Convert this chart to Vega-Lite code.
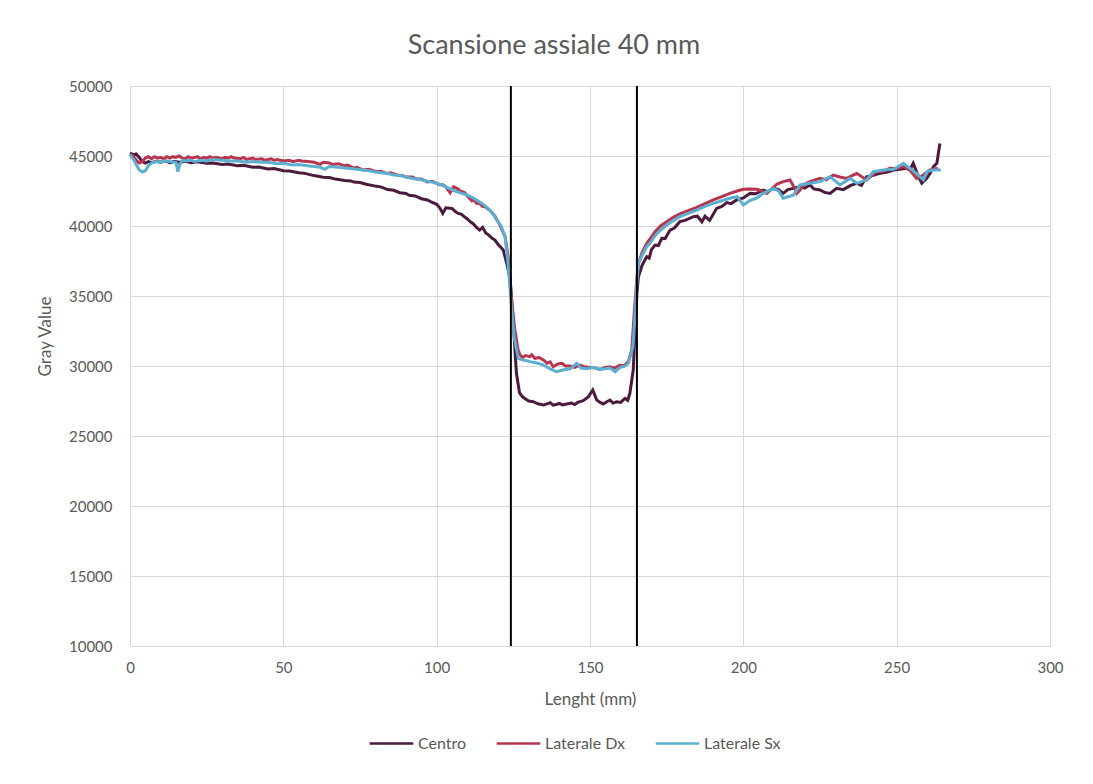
{
"$schema": "https://vega.github.io/schema/vega-lite/v6.json",
"width": 920,
"height": 560,
"autosize": {"type": "none"},
"padding": {"left": 130, "top": 86, "right": 43, "bottom": 138},
"background": "white",
"config": {
  "font": "Lato",
  "view": {"stroke": null},
  "axis": {"labelFont": "Lato", "titleFont": "Lato", "labelColor": "#595959", "titleColor": "#595959", "labelFontSize": 15, "titleFontSize": 17, "titleFontWeight": "normal", "gridColor": "#d9d9d9", "gridWidth": 1, "domainColor": "#d9d9d9", "ticks": false, "labelFlush": false},
  "legend": {"labelFont": "Lato", "labelColor": "#595959", "labelFontSize": 16}
},
"title": {"text": "Scansione assiale 40 mm", "font": "Lato", "fontSize": 27, "fontWeight": "normal", "color": "#595959", "anchor": "middle", "dx": -36, "dy": 36, "offset": 34, "baseline": "alphabetic"},
"datasets": {
"series": [
{"s":"Centro","x":0,"y":45200},{"s":"Centro","x":1,"y":45100},{"s":"Centro","x":2,"y":45150},{"s":"Centro","x":3,"y":44900},{"s":"Centro","x":4,"y":44600},{"s":"Centro","x":5,"y":44500},{"s":"Centro","x":6,"y":44600},{"s":"Centro","x":7,"y":44520},{"s":"Centro","x":8.5,"y":44620},{"s":"Centro","x":10,"y":44550},{"s":"Centro","x":11.5,"y":44650},{"s":"Centro","x":13,"y":44530},{"s":"Centro","x":14.5,"y":44620},{"s":"Centro","x":16,"y":44560},{"s":"Centro","x":18,"y":44620},{"s":"Centro","x":20,"y":44520},{"s":"Centro","x":22,"y":44580},{"s":"Centro","x":25,"y":44480},{"s":"Centro","x":27,"y":44500},{"s":"Centro","x":30,"y":44400},{"s":"Centro","x":32,"y":44420},{"s":"Centro","x":35,"y":44300},{"s":"Centro","x":37,"y":44330},{"s":"Centro","x":40,"y":44200},{"s":"Centro","x":42,"y":44220},{"s":"Centro","x":45,"y":44080},{"s":"Centro","x":47,"y":44100},{"s":"Centro","x":50,"y":43950},{"s":"Centro","x":52,"y":43930},{"s":"Centro","x":55,"y":43800},{"s":"Centro","x":57,"y":43760},{"s":"Centro","x":60,"y":43600},{"s":"Centro","x":63,"y":43480},{"s":"Centro","x":65,"y":43460},{"s":"Centro","x":67,"y":43350},{"s":"Centro","x":70,"y":43250},{"s":"Centro","x":72,"y":43220},{"s":"Centro","x":73,"y":43140},{"s":"Centro","x":75,"y":43100},{"s":"Centro","x":77,"y":42980},{"s":"Centro","x":80,"y":42850},{"s":"Centro","x":82,"y":42780},{"s":"Centro","x":84,"y":42600},{"s":"Centro","x":86,"y":42550},{"s":"Centro","x":88,"y":42380},{"s":"Centro","x":90,"y":42320},{"s":"Centro","x":91,"y":42200},{"s":"Centro","x":93,"y":42150},{"s":"Centro","x":95,"y":41950},{"s":"Centro","x":97,"y":41860},{"s":"Centro","x":98,"y":41740},{"s":"Centro","x":100,"y":41550},{"s":"Centro","x":101,"y":41300},{"s":"Centro","x":102,"y":40900},{"s":"Centro","x":103,"y":41300},{"s":"Centro","x":105,"y":41250},{"s":"Centro","x":106,"y":41050},{"s":"Centro","x":107,"y":40900},{"s":"Centro","x":108,"y":40850},{"s":"Centro","x":109,"y":40670},{"s":"Centro","x":110,"y":40500},{"s":"Centro","x":111,"y":40300},{"s":"Centro","x":112,"y":40150},{"s":"Centro","x":113,"y":39900},{"s":"Centro","x":114,"y":39710},{"s":"Centro","x":115,"y":39900},{"s":"Centro","x":116,"y":39500},{"s":"Centro","x":117,"y":39350},{"s":"Centro","x":118,"y":39140},{"s":"Centro","x":119,"y":39000},{"s":"Centro","x":120,"y":38700},{"s":"Centro","x":121.7,"y":38290},{"s":"Centro","x":123,"y":37200},{"s":"Centro","x":124,"y":36140},{"s":"Centro","x":125,"y":33000},{"s":"Centro","x":126,"y":29500},{"s":"Centro","x":127,"y":28100},{"s":"Centro","x":128,"y":27800},{"s":"Centro","x":129,"y":27650},{"s":"Centro","x":130,"y":27500},{"s":"Centro","x":131.5,"y":27450},{"s":"Centro","x":133,"y":27300},{"s":"Centro","x":134.8,"y":27210},{"s":"Centro","x":136,"y":27300},{"s":"Centro","x":137,"y":27380},{"s":"Centro","x":138,"y":27200},{"s":"Centro","x":139,"y":27250},{"s":"Centro","x":140,"y":27330},{"s":"Centro","x":141,"y":27220},{"s":"Centro","x":142.4,"y":27290},{"s":"Centro","x":144,"y":27350},{"s":"Centro","x":145,"y":27250},{"s":"Centro","x":146,"y":27400},{"s":"Centro","x":147.8,"y":27520},{"s":"Centro","x":149.5,"y":27810},{"s":"Centro","x":150.9,"y":28290},{"s":"Centro","x":152.2,"y":27570},{"s":"Centro","x":153.3,"y":27400},{"s":"Centro","x":154.3,"y":27290},{"s":"Centro","x":155.5,"y":27450},{"s":"Centro","x":156.5,"y":27570},{"s":"Centro","x":157.5,"y":27350},{"s":"Centro","x":158.7,"y":27450},{"s":"Centro","x":160,"y":27400},{"s":"Centro","x":161.4,"y":27690},{"s":"Centro","x":162.3,"y":27550},{"s":"Centro","x":163,"y":28050},{"s":"Centro","x":164.1,"y":29710},{"s":"Centro","x":164.7,"y":32570},{"s":"Centro","x":165.3,"y":35200},{"s":"Centro","x":165.8,"y":36380},{"s":"Centro","x":167,"y":37200},{"s":"Centro","x":168.5,"y":37810},{"s":"Centro","x":169.3,"y":37700},{"s":"Centro","x":170,"y":38300},{"s":"Centro","x":171.2,"y":38640},{"s":"Centro","x":172.3,"y":38600},{"s":"Centro","x":173.4,"y":39120},{"s":"Centro","x":174.5,"y":39100},{"s":"Centro","x":176.1,"y":39710},{"s":"Centro","x":177.5,"y":39850},{"s":"Centro","x":179.3,"y":40310},{"s":"Centro","x":181,"y":40400},{"s":"Centro","x":183.7,"y":40670},{"s":"Centro","x":185,"y":40700},{"s":"Centro","x":186.5,"y":40300},{"s":"Centro","x":187.5,"y":40700},{"s":"Centro","x":189,"y":40400},{"s":"Centro","x":191.3,"y":41260},{"s":"Centro","x":193,"y":41400},{"s":"Centro","x":194.6,"y":41670},{"s":"Centro","x":196,"y":41600},{"s":"Centro","x":197.8,"y":41860},{"s":"Centro","x":200,"y":42000},{"s":"Centro","x":202.2,"y":42330},{"s":"Centro","x":204,"y":42300},{"s":"Centro","x":206.5,"y":42570},{"s":"Centro","x":208,"y":42450},{"s":"Centro","x":209.8,"y":42690},{"s":"Centro","x":211.5,"y":42600},{"s":"Centro","x":213,"y":42330},{"s":"Centro","x":214.5,"y":42600},{"s":"Centro","x":216.3,"y":42690},{"s":"Centro","x":218.5,"y":42810},{"s":"Centro","x":220,"y":42700},{"s":"Centro","x":221.7,"y":42930},{"s":"Centro","x":223,"y":42650},{"s":"Centro","x":225,"y":42570},{"s":"Centro","x":226.5,"y":42400},{"s":"Centro","x":228.3,"y":42330},{"s":"Centro","x":230.4,"y":42690},{"s":"Centro","x":232.6,"y":42600},{"s":"Centro","x":235,"y":42900},{"s":"Centro","x":237,"y":43050},{"s":"Centro","x":238.5,"y":42900},{"s":"Centro","x":240.2,"y":43520},{"s":"Centro","x":242,"y":43600},{"s":"Centro","x":244.6,"y":43760},{"s":"Centro","x":247,"y":43850},{"s":"Centro","x":249,"y":44000},{"s":"Centro","x":251,"y":44050},{"s":"Centro","x":253.2,"y":44120},{"s":"Centro","x":254.3,"y":44000},{"s":"Centro","x":255.4,"y":44480},{"s":"Centro","x":257.1,"y":43520},{"s":"Centro","x":258.2,"y":43050},{"s":"Centro","x":259.8,"y":43400},{"s":"Centro","x":261,"y":43800},{"s":"Centro","x":262,"y":44240},{"s":"Centro","x":263.1,"y":44480},{"s":"Centro","x":264.1,"y":45900},
{"s":"Laterale Dx","x":0,"y":45100},{"s":"Laterale Dx","x":1,"y":45000},{"s":"Laterale Dx","x":2,"y":44700},{"s":"Laterale Dx","x":3,"y":44500},{"s":"Laterale Dx","x":4,"y":44600},{"s":"Laterale Dx","x":5,"y":44850},{"s":"Laterale Dx","x":6,"y":44950},{"s":"Laterale Dx","x":7,"y":44800},{"s":"Laterale Dx","x":8,"y":44950},{"s":"Laterale Dx","x":9,"y":44850},{"s":"Laterale Dx","x":10,"y":44900},{"s":"Laterale Dx","x":11,"y":44800},{"s":"Laterale Dx","x":12,"y":44950},{"s":"Laterale Dx","x":13,"y":44850},{"s":"Laterale Dx","x":14,"y":44950},{"s":"Laterale Dx","x":15,"y":44900},{"s":"Laterale Dx","x":16,"y":45000},{"s":"Laterale Dx","x":17,"y":44850},{"s":"Laterale Dx","x":18,"y":44800},{"s":"Laterale Dx","x":19,"y":44950},{"s":"Laterale Dx","x":20,"y":44850},{"s":"Laterale Dx","x":22,"y":44950},{"s":"Laterale Dx","x":23,"y":44800},{"s":"Laterale Dx","x":24,"y":44900},{"s":"Laterale Dx","x":25,"y":44850},{"s":"Laterale Dx","x":26,"y":44950},{"s":"Laterale Dx","x":27,"y":44850},{"s":"Laterale Dx","x":28,"y":44900},{"s":"Laterale Dx","x":30,"y":44800},{"s":"Laterale Dx","x":31,"y":44900},{"s":"Laterale Dx","x":32,"y":44850},{"s":"Laterale Dx","x":33,"y":44950},{"s":"Laterale Dx","x":34,"y":44850},{"s":"Laterale Dx","x":36,"y":44800},{"s":"Laterale Dx","x":37,"y":44900},{"s":"Laterale Dx","x":38,"y":44750},{"s":"Laterale Dx","x":40,"y":44850},{"s":"Laterale Dx","x":41,"y":44750},{"s":"Laterale Dx","x":43,"y":44800},{"s":"Laterale Dx","x":44,"y":44700},{"s":"Laterale Dx","x":46,"y":44800},{"s":"Laterale Dx","x":47,"y":44700},{"s":"Laterale Dx","x":48,"y":44750},{"s":"Laterale Dx","x":50,"y":44650},{"s":"Laterale Dx","x":52,"y":44700},{"s":"Laterale Dx","x":53,"y":44600},{"s":"Laterale Dx","x":55,"y":44700},{"s":"Laterale Dx","x":56,"y":44650},{"s":"Laterale Dx","x":58,"y":44600},{"s":"Laterale Dx","x":60,"y":44550},{"s":"Laterale Dx","x":62,"y":44400},{"s":"Laterale Dx","x":63,"y":44550},{"s":"Laterale Dx","x":65,"y":44500},{"s":"Laterale Dx","x":66,"y":44400},{"s":"Laterale Dx","x":68,"y":44450},{"s":"Laterale Dx","x":70,"y":44300},{"s":"Laterale Dx","x":71,"y":44350},{"s":"Laterale Dx","x":72.8,"y":44150},{"s":"Laterale Dx","x":74,"y":44200},{"s":"Laterale Dx","x":76,"y":44000},{"s":"Laterale Dx","x":78,"y":44050},{"s":"Laterale Dx","x":80,"y":43900},{"s":"Laterale Dx","x":82,"y":43900},{"s":"Laterale Dx","x":83.7,"y":43750},{"s":"Laterale Dx","x":85,"y":43800},{"s":"Laterale Dx","x":87,"y":43650},{"s":"Laterale Dx","x":89,"y":43600},{"s":"Laterale Dx","x":90,"y":43500},{"s":"Laterale Dx","x":92,"y":43500},{"s":"Laterale Dx","x":93.5,"y":43350},{"s":"Laterale Dx","x":95,"y":43350},{"s":"Laterale Dx","x":97,"y":43150},{"s":"Laterale Dx","x":98.5,"y":43200},{"s":"Laterale Dx","x":100,"y":43050},{"s":"Laterale Dx","x":101,"y":42950},{"s":"Laterale Dx","x":102,"y":42950},{"s":"Laterale Dx","x":103,"y":42800},{"s":"Laterale Dx","x":104.4,"y":42380},{"s":"Laterale Dx","x":105.5,"y":42800},{"s":"Laterale Dx","x":107,"y":42650},{"s":"Laterale Dx","x":107.6,"y":42500},{"s":"Laterale Dx","x":109,"y":42400},{"s":"Laterale Dx","x":110,"y":42150},{"s":"Laterale Dx","x":111.5,"y":41800},{"s":"Laterale Dx","x":112,"y":41900},{"s":"Laterale Dx","x":113,"y":41620},{"s":"Laterale Dx","x":114,"y":41600},{"s":"Laterale Dx","x":115,"y":41400},{"s":"Laterale Dx","x":116,"y":41350},{"s":"Laterale Dx","x":117.4,"y":41100},{"s":"Laterale Dx","x":119,"y":40700},{"s":"Laterale Dx","x":120.6,"y":40070},{"s":"Laterale Dx","x":122.3,"y":39240},{"s":"Laterale Dx","x":123.3,"y":37810},{"s":"Laterale Dx","x":124.3,"y":35000},{"s":"Laterale Dx","x":125.5,"y":32570},{"s":"Laterale Dx","x":126.5,"y":31200},{"s":"Laterale Dx","x":127.2,"y":30790},{"s":"Laterale Dx","x":128,"y":30600},{"s":"Laterale Dx","x":129,"y":30750},{"s":"Laterale Dx","x":130.4,"y":30670},{"s":"Laterale Dx","x":131,"y":30800},{"s":"Laterale Dx","x":132,"y":30550},{"s":"Laterale Dx","x":133.5,"y":30600},{"s":"Laterale Dx","x":134.8,"y":30430},{"s":"Laterale Dx","x":136,"y":30200},{"s":"Laterale Dx","x":137,"y":30300},{"s":"Laterale Dx","x":138,"y":29950},{"s":"Laterale Dx","x":139.5,"y":30150},{"s":"Laterale Dx","x":140.8,"y":30190},{"s":"Laterale Dx","x":142,"y":30000},{"s":"Laterale Dx","x":143.5,"y":30000},{"s":"Laterale Dx","x":145,"y":29900},{"s":"Laterale Dx","x":146.7,"y":30070},{"s":"Laterale Dx","x":148,"y":29950},{"s":"Laterale Dx","x":150,"y":29900},{"s":"Laterale Dx","x":152,"y":29850},{"s":"Laterale Dx","x":153.3,"y":29760},{"s":"Laterale Dx","x":155,"y":29900},{"s":"Laterale Dx","x":156.5,"y":29950},{"s":"Laterale Dx","x":158,"y":29850},{"s":"Laterale Dx","x":159.8,"y":30070},{"s":"Laterale Dx","x":161,"y":30000},{"s":"Laterale Dx","x":162.5,"y":30310},{"s":"Laterale Dx","x":163.6,"y":31140},{"s":"Laterale Dx","x":164.5,"y":34000},{"s":"Laterale Dx","x":165.3,"y":36300},{"s":"Laterale Dx","x":165.8,"y":37330},{"s":"Laterale Dx","x":167,"y":38100},{"s":"Laterale Dx","x":168.5,"y":38760},{"s":"Laterale Dx","x":170,"y":39200},{"s":"Laterale Dx","x":171.2,"y":39590},{"s":"Laterale Dx","x":173,"y":40000},{"s":"Laterale Dx","x":175,"y":40310},{"s":"Laterale Dx","x":177,"y":40600},{"s":"Laterale Dx","x":179.3,"y":40860},{"s":"Laterale Dx","x":182,"y":41100},{"s":"Laterale Dx","x":184.8,"y":41330},{"s":"Laterale Dx","x":187.5,"y":41600},{"s":"Laterale Dx","x":190.2,"y":41860},{"s":"Laterale Dx","x":193,"y":42100},{"s":"Laterale Dx","x":195.6,"y":42330},{"s":"Laterale Dx","x":198,"y":42500},{"s":"Laterale Dx","x":200,"y":42620},{"s":"Laterale Dx","x":202,"y":42650},{"s":"Laterale Dx","x":204.4,"y":42620},{"s":"Laterale Dx","x":206,"y":42500},{"s":"Laterale Dx","x":207.6,"y":42330},{"s":"Laterale Dx","x":209,"y":42600},{"s":"Laterale Dx","x":211,"y":43000},{"s":"Laterale Dx","x":213,"y":43170},{"s":"Laterale Dx","x":215.2,"y":43290},{"s":"Laterale Dx","x":216.5,"y":42800},{"s":"Laterale Dx","x":217.4,"y":42330},{"s":"Laterale Dx","x":218.5,"y":42570},{"s":"Laterale Dx","x":219.6,"y":42930},{"s":"Laterale Dx","x":221.7,"y":43170},{"s":"Laterale Dx","x":225,"y":43400},{"s":"Laterale Dx","x":227,"y":43300},{"s":"Laterale Dx","x":229.3,"y":43640},{"s":"Laterale Dx","x":231.5,"y":43500},{"s":"Laterale Dx","x":233.7,"y":43400},{"s":"Laterale Dx","x":235.5,"y":43600},{"s":"Laterale Dx","x":237,"y":43760},{"s":"Laterale Dx","x":240.2,"y":43290},{"s":"Laterale Dx","x":243.5,"y":43880},{"s":"Laterale Dx","x":245.5,"y":43900},{"s":"Laterale Dx","x":247.8,"y":44120},{"s":"Laterale Dx","x":250,"y":44100},{"s":"Laterale Dx","x":252.2,"y":44240},{"s":"Laterale Dx","x":254.3,"y":44000},{"s":"Laterale Dx","x":256.5,"y":43400},{"s":"Laterale Dx","x":258.7,"y":43640},{"s":"Laterale Dx","x":260.9,"y":44000},{"s":"Laterale Dx","x":263.5,"y":44100},
{"s":"Laterale Sx","x":0,"y":45100},{"s":"Laterale Sx","x":1,"y":44800},{"s":"Laterale Sx","x":2,"y":44400},{"s":"Laterale Sx","x":3,"y":44000},{"s":"Laterale Sx","x":4,"y":43860},{"s":"Laterale Sx","x":5,"y":43950},{"s":"Laterale Sx","x":6,"y":44300},{"s":"Laterale Sx","x":7,"y":44500},{"s":"Laterale Sx","x":8.5,"y":44600},{"s":"Laterale Sx","x":10,"y":44550},{"s":"Laterale Sx","x":11.5,"y":44650},{"s":"Laterale Sx","x":13,"y":44600},{"s":"Laterale Sx","x":15,"y":44550},{"s":"Laterale Sx","x":15.6,"y":43880},{"s":"Laterale Sx","x":16.3,"y":44400},{"s":"Laterale Sx","x":17,"y":44700},{"s":"Laterale Sx","x":18,"y":44650},{"s":"Laterale Sx","x":20,"y":44700},{"s":"Laterale Sx","x":21,"y":44600},{"s":"Laterale Sx","x":23,"y":44700},{"s":"Laterale Sx","x":25,"y":44650},{"s":"Laterale Sx","x":27,"y":44750},{"s":"Laterale Sx","x":30,"y":44700},{"s":"Laterale Sx","x":32,"y":44650},{"s":"Laterale Sx","x":35,"y":44650},{"s":"Laterale Sx","x":38,"y":44550},{"s":"Laterale Sx","x":40,"y":44600},{"s":"Laterale Sx","x":43,"y":44550},{"s":"Laterale Sx","x":45,"y":44550},{"s":"Laterale Sx","x":48,"y":44450},{"s":"Laterale Sx","x":50,"y":44480},{"s":"Laterale Sx","x":53,"y":44350},{"s":"Laterale Sx","x":55,"y":44400},{"s":"Laterale Sx","x":58,"y":44300},{"s":"Laterale Sx","x":60,"y":44250},{"s":"Laterale Sx","x":62,"y":44200},{"s":"Laterale Sx","x":63.5,"y":44050},{"s":"Laterale Sx","x":65,"y":44250},{"s":"Laterale Sx","x":68,"y":44200},{"s":"Laterale Sx","x":70,"y":44150},{"s":"Laterale Sx","x":72,"y":44100},{"s":"Laterale Sx","x":74,"y":44050},{"s":"Laterale Sx","x":76,"y":44000},{"s":"Laterale Sx","x":78,"y":43950},{"s":"Laterale Sx","x":80,"y":43850},{"s":"Laterale Sx","x":82,"y":43800},{"s":"Laterale Sx","x":84,"y":43750},{"s":"Laterale Sx","x":86,"y":43650},{"s":"Laterale Sx","x":88,"y":43600},{"s":"Laterale Sx","x":90,"y":43500},{"s":"Laterale Sx","x":92,"y":43400},{"s":"Laterale Sx","x":94,"y":43350},{"s":"Laterale Sx","x":96,"y":43250},{"s":"Laterale Sx","x":98,"y":43150},{"s":"Laterale Sx","x":100,"y":43050},{"s":"Laterale Sx","x":101.5,"y":42950},{"s":"Laterale Sx","x":103,"y":42800},{"s":"Laterale Sx","x":104.5,"y":42650},{"s":"Laterale Sx","x":106,"y":42500},{"s":"Laterale Sx","x":108,"y":42350},{"s":"Laterale Sx","x":110,"y":42200},{"s":"Laterale Sx","x":111.5,"y":42050},{"s":"Laterale Sx","x":113,"y":41860},{"s":"Laterale Sx","x":114.5,"y":41650},{"s":"Laterale Sx","x":116,"y":41400},{"s":"Laterale Sx","x":118,"y":41000},{"s":"Laterale Sx","x":119.6,"y":40430},{"s":"Laterale Sx","x":121,"y":40000},{"s":"Laterale Sx","x":122.3,"y":39240},{"s":"Laterale Sx","x":123.3,"y":37300},{"s":"Laterale Sx","x":124.3,"y":34500},{"s":"Laterale Sx","x":125.3,"y":32000},{"s":"Laterale Sx","x":126.6,"y":30550},{"s":"Laterale Sx","x":128,"y":30450},{"s":"Laterale Sx","x":130.4,"y":30310},{"s":"Laterale Sx","x":133,"y":30200},{"s":"Laterale Sx","x":134.8,"y":30070},{"s":"Laterale Sx","x":137,"y":29800},{"s":"Laterale Sx","x":139.1,"y":29590},{"s":"Laterale Sx","x":141,"y":29710},{"s":"Laterale Sx","x":143.5,"y":29800},{"s":"Laterale Sx","x":145.7,"y":30190},{"s":"Laterale Sx","x":147,"y":29850},{"s":"Laterale Sx","x":149,"y":29800},{"s":"Laterale Sx","x":151,"y":29900},{"s":"Laterale Sx","x":153,"y":29760},{"s":"Laterale Sx","x":155,"y":29800},{"s":"Laterale Sx","x":156.5,"y":29850},{"s":"Laterale Sx","x":158.2,"y":29590},{"s":"Laterale Sx","x":159.8,"y":29900},{"s":"Laterale Sx","x":161,"y":29950},{"s":"Laterale Sx","x":162.5,"y":30190},{"s":"Laterale Sx","x":164,"y":31380},{"s":"Laterale Sx","x":164.8,"y":34000},{"s":"Laterale Sx","x":165.3,"y":36000},{"s":"Laterale Sx","x":165.8,"y":37330},{"s":"Laterale Sx","x":167,"y":37900},{"s":"Laterale Sx","x":168.5,"y":38520},{"s":"Laterale Sx","x":170,"y":38900},{"s":"Laterale Sx","x":171.2,"y":39300},{"s":"Laterale Sx","x":173,"y":39700},{"s":"Laterale Sx","x":175,"y":40070},{"s":"Laterale Sx","x":177,"y":40350},{"s":"Laterale Sx","x":179.3,"y":40670},{"s":"Laterale Sx","x":182,"y":40900},{"s":"Laterale Sx","x":184.8,"y":41140},{"s":"Laterale Sx","x":187.5,"y":41400},{"s":"Laterale Sx","x":190.2,"y":41620},{"s":"Laterale Sx","x":193,"y":41800},{"s":"Laterale Sx","x":195.6,"y":41980},{"s":"Laterale Sx","x":198,"y":42100},{"s":"Laterale Sx","x":200,"y":41500},{"s":"Laterale Sx","x":202,"y":41800},{"s":"Laterale Sx","x":204.4,"y":42000},{"s":"Laterale Sx","x":206.5,"y":42330},{"s":"Laterale Sx","x":209.8,"y":42690},{"s":"Laterale Sx","x":211.5,"y":42500},{"s":"Laterale Sx","x":213,"y":41980},{"s":"Laterale Sx","x":216.3,"y":42200},{"s":"Laterale Sx","x":218.5,"y":42930},{"s":"Laterale Sx","x":221.7,"y":43050},{"s":"Laterale Sx","x":225,"y":43170},{"s":"Laterale Sx","x":228.3,"y":43520},{"s":"Laterale Sx","x":231.5,"y":42930},{"s":"Laterale Sx","x":234.8,"y":43400},{"s":"Laterale Sx","x":237,"y":43050},{"s":"Laterale Sx","x":240.2,"y":43300},{"s":"Laterale Sx","x":242.4,"y":43880},{"s":"Laterale Sx","x":245.7,"y":44000},{"s":"Laterale Sx","x":249,"y":44050},{"s":"Laterale Sx","x":252.2,"y":44480},{"s":"Laterale Sx","x":254.3,"y":44120},{"s":"Laterale Sx","x":256.5,"y":43760},{"s":"Laterale Sx","x":258.7,"y":43290},{"s":"Laterale Sx","x":260,"y":43900},{"s":"Laterale Sx","x":262,"y":44000},{"s":"Laterale Sx","x":264.4,"y":44000}
],
"markers": [{"x": 124.2}, {"x": 165.3}]
},
"layer": [
  {
    "data": {"name": "series"},
    "mark": {"type": "line", "strokeWidth": 3, "interpolate": "linear"},
    "encoding": {
      "x": {"field": "x", "type": "quantitative", "scale": {"domain": [0, 300], "nice": false}, "axis": {"title": "Lenght (mm)", "values": [0,50,100,150,200,250,300], "labelPadding": 14, "titlePadding": 16, "labelFlush": false}},
      "y": {"field": "y", "type": "quantitative", "scale": {"domain": [10000, 50000], "nice": false, "zero": false}, "axis": {"title": "Gray Value", "values": [10000,15000,20000,25000,30000,35000,40000,45000,50000], "format": "d", "labelPadding": 18, "titlePadding": 14, "titleY": 250, "labelFlush": false}},
      "color": {"field": "s", "type": "nominal", "scale": {"domain": ["Centro", "Laterale Dx", "Laterale Sx"], "range": ["#4b1a3c", "#b8354f", "#5bafd1"]}, "legend": {"title": null, "orient": "none", "legendX": 238, "legendY": 634, "direction": "horizontal", "gridAlign": "none", "symbolType": "stroke", "symbolSize": 1900, "symbolStrokeWidth": 2.5, "labelOffset": 3, "columnPadding": 24}},
      "order": {"field": "x", "type": "quantitative"}
    }
  },
  {
    "data": {"name": "markers"},
    "mark": {"type": "rule", "color": "black", "strokeWidth": 2},
    "encoding": {"x": {"field": "x", "type": "quantitative"}}
  }
]
}
